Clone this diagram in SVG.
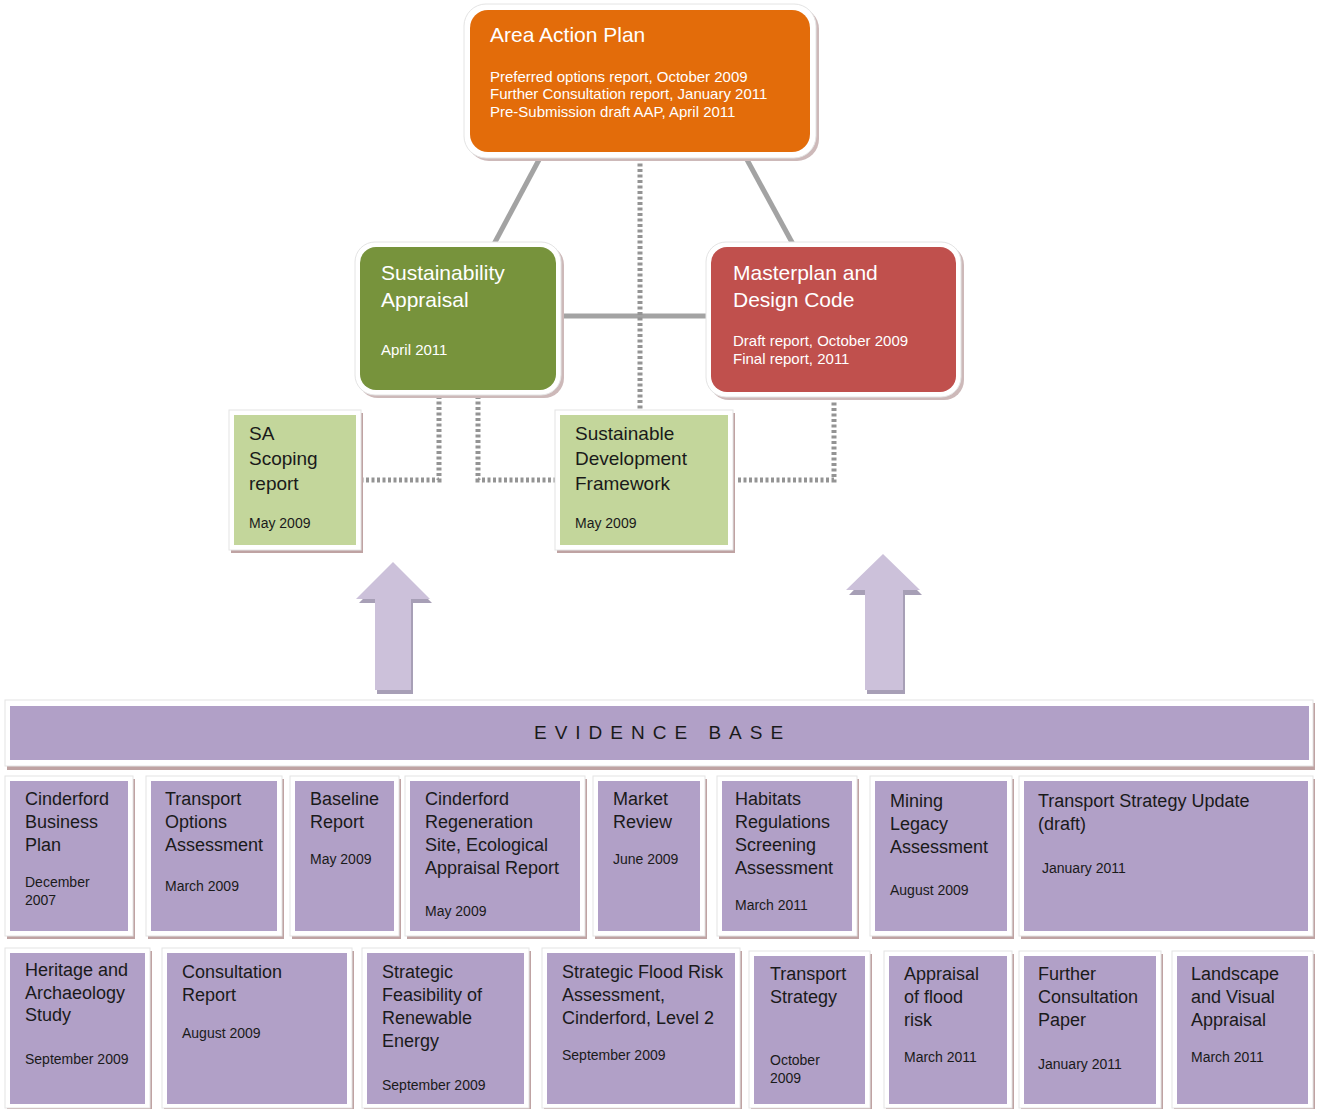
<svg xmlns="http://www.w3.org/2000/svg" width="1318" height="1109" viewBox="0 0 1318 1109">
<style>
text{font-family:"Liberation Sans",Arial,sans-serif}
.frame{fill:#fff;stroke:#e4e4e4;stroke-width:1}
.sh{fill:#bfa3a3}
.shr{fill:#cdb9b9}
.orange{fill:#e36c0a}
.green{fill:#77933c}
.red{fill:#c0504d}
.lg{fill:#c3d69b}
.pu{fill:#b1a0c7}
.wt{fill:#fff;font-size:21px}
.ws{fill:#fff;font-size:15px}
.bt{fill:#1a1a1a;font-size:19px}
.et{fill:#1a1a1a;font-size:18px}
.ed{fill:#1a1a1a;font-size:14px}
.solid{stroke:#a3a3a3;stroke-width:5;fill:none}
.dot{stroke:#949494;stroke-width:5;fill:none;stroke-dasharray:3 2.5}
.arr{fill:#ccc1da}
.arrsh{fill:#a79fb6}
</style>

<g id="connectors">
  <line class="solid" x1="541" y1="156" x2="494" y2="244"/>
  <line class="solid" x1="745" y1="156" x2="794" y2="246"/>
  <line class="solid" x1="558" y1="316" x2="709" y2="316"/>
  <line class="dot" x1="640" y1="158" x2="640" y2="410"/>
  <polyline class="dot" points="439,396 439,480 363,480"/>
  <polyline class="dot" points="478,396 478,480 556,480"/>
  <polyline class="dot" points="834,397 834,480 736,480"/>
</g>

<g id="arrow-left">
  <polygon class="arrsh" points="395,566 432,603 413,603 413,694 377,694 377,603 359,603"/>
  <polygon class="arr" points="393,562 430,599 411,599 411,690 375,690 375,599 356,599"/>
</g>
<g id="arrow-right">
  <polygon class="arrsh" points="885,558 922,595 905,595 905,694 867,694 867,595 849,595"/>
  <polygon class="arr" points="883,554 920,590 903,590 903,690 865,690 865,590 846,590"/>
</g>

<g id="area-action-plan">
  <rect class="shr" x="467" y="7" width="352" height="154" rx="22"/>
  <rect class="frame" x="464" y="4" width="352" height="154" rx="22"/>
  <rect class="orange" x="470" y="10" width="340" height="142" rx="18"/>
  <text class="wt" x="490" y="42">Area Action Plan</text>
  <text class="ws" x="490" y="82">Preferred options report, October 2009</text>
  <text class="ws" x="490" y="99">Further Consultation report, January 2011</text>
  <text class="ws" x="490" y="117">Pre-Submission draft AAP, April 2011</text>
</g>

<g id="sustainability-appraisal">
  <rect class="shr" x="358" y="245" width="206" height="153" rx="20"/>
  <rect class="frame" x="355" y="242" width="206" height="153" rx="20"/>
  <rect class="green" x="360" y="247" width="196" height="143" rx="16"/>
  <text class="wt" x="381" y="280">Sustainability</text>
  <text class="wt" x="381" y="307">Appraisal</text>
  <text class="ws" x="381" y="355">April 2011</text>
</g>

<g id="masterplan">
  <rect class="shr" x="709" y="245" width="255" height="155" rx="20"/>
  <rect class="frame" x="706" y="242" width="255" height="155" rx="20"/>
  <rect class="red" x="711" y="247" width="245" height="145" rx="16"/>
  <text class="wt" x="733" y="280">Masterplan and</text>
  <text class="wt" x="733" y="307">Design Code</text>
  <text class="ws" x="733" y="346">Draft report, October 2009</text>
  <text class="ws" x="733" y="364">Final report, 2011</text>
</g>

<g id="sa-scoping">
  <rect class="sh" x="231" y="413" width="132" height="140"/>
  <rect class="frame" x="229" y="410" width="132" height="140"/>
  <rect class="lg" x="234" y="415" width="122" height="130"/>
  <text class="bt" x="249" y="440">SA</text>
  <text class="bt" x="249" y="465">Scoping</text>
  <text class="bt" x="249" y="490">report</text>
  <text class="ed" x="249" y="528">May 2009</text>
</g>

<g id="sdf">
  <rect class="sh" x="557" y="413" width="178" height="140"/>
  <rect class="frame" x="555" y="410" width="178" height="140"/>
  <rect class="lg" x="560" y="415" width="168" height="130"/>
  <text class="bt" x="575" y="440">Sustainable</text>
  <text class="bt" x="575" y="465">Development</text>
  <text class="bt" x="575" y="490">Framework</text>
  <text class="ed" x="575" y="528">May 2009</text>
</g>

<g id="evidence-base">
  <rect class="sh" x="7" y="703" width="1308" height="67"/>
  <rect class="frame" x="5" y="700" width="1308" height="66"/>
  <rect class="pu" x="10" y="706" width="1299" height="54"/>
  <text x="534" y="739" style="font-size:19px;letter-spacing:8px;fill:#1a1a1a">EVIDENCE  BASE</text>
</g>

<!-- Row 1 -->
<g id="ev-cinderford-business-plan">
  <rect class="sh" x="7" y="779" width="128" height="160"/>
  <rect class="frame" x="5" y="776" width="128" height="160"/>
  <rect class="pu" x="10" y="781" width="118" height="150"/>
  <text class="et" x="25" y="805">Cinderford</text>
  <text class="et" x="25" y="828">Business</text>
  <text class="et" x="25" y="851">Plan</text>
  <text class="ed" x="25" y="887">December</text>
  <text class="ed" x="25" y="905">2007</text>
</g>
<g id="ev-transport-options">
  <rect class="sh" x="148" y="779" width="136" height="160"/>
  <rect class="frame" x="146" y="776" width="136" height="160"/>
  <rect class="pu" x="151" y="781" width="126" height="150"/>
  <text class="et" x="165" y="805">Transport</text>
  <text class="et" x="165" y="828">Options</text>
  <text class="et" x="165" y="851">Assessment</text>
  <text class="ed" x="165" y="891">March  2009</text>
</g>
<g id="ev-baseline-report">
  <rect class="sh" x="292" y="779" width="109" height="160"/>
  <rect class="frame" x="290" y="776" width="109" height="160"/>
  <rect class="pu" x="295" y="781" width="99" height="150"/>
  <text class="et" x="310" y="805">Baseline</text>
  <text class="et" x="310" y="828">Report</text>
  <text class="ed" x="310" y="864">May 2009</text>
</g>
<g id="ev-ecological-appraisal">
  <rect class="sh" x="407" y="779" width="180" height="160"/>
  <rect class="frame" x="405" y="776" width="180" height="160"/>
  <rect class="pu" x="410" y="781" width="170" height="150"/>
  <text class="et" x="425" y="805">Cinderford</text>
  <text class="et" x="425" y="828">Regeneration</text>
  <text class="et" x="425" y="851">Site, Ecological</text>
  <text class="et" x="425" y="874">Appraisal Report</text>
  <text class="ed" x="425" y="916">May 2009</text>
</g>
<g id="ev-market-review">
  <rect class="sh" x="595" y="779" width="112" height="160"/>
  <rect class="frame" x="593" y="776" width="112" height="160"/>
  <rect class="pu" x="598" y="781" width="102" height="150"/>
  <text class="et" x="613" y="805">Market</text>
  <text class="et" x="613" y="828">Review</text>
  <text class="ed" x="613" y="864">June 2009</text>
</g>
<g id="ev-habitats">
  <rect class="sh" x="719" y="779" width="140" height="160"/>
  <rect class="frame" x="717" y="776" width="140" height="160"/>
  <rect class="pu" x="722" y="781" width="130" height="150"/>
  <text class="et" x="735" y="805">Habitats</text>
  <text class="et" x="735" y="828">Regulations</text>
  <text class="et" x="735" y="851">Screening</text>
  <text class="et" x="735" y="874">Assessment</text>
  <text class="ed" x="735" y="910">March 2011</text>
</g>
<g id="ev-mining-legacy">
  <rect class="sh" x="872" y="779" width="142" height="160"/>
  <rect class="frame" x="870" y="776" width="142" height="160"/>
  <rect class="pu" x="875" y="781" width="132" height="150"/>
  <text class="et" x="890" y="807">Mining</text>
  <text class="et" x="890" y="830">Legacy</text>
  <text class="et" x="890" y="853">Assessment</text>
  <text class="ed" x="890" y="895">August 2009</text>
</g>
<g id="ev-transport-strategy-update">
  <rect class="sh" x="1021" y="779" width="294" height="160"/>
  <rect class="frame" x="1019" y="776" width="294" height="160"/>
  <rect class="pu" x="1024" y="781" width="284" height="150"/>
  <text class="et" x="1038" y="807">Transport Strategy Update</text>
  <text class="et" x="1038" y="830">(draft)</text>
  <text class="ed" x="1042" y="873">January 2011</text>
</g>

<!-- Row 2 -->
<g id="ev-heritage">
  <rect class="sh" x="7" y="951" width="145" height="160"/>
  <rect class="frame" x="5" y="948" width="145" height="160"/>
  <rect class="pu" x="10" y="953" width="135" height="151"/>
  <text class="et" x="25" y="976">Heritage and</text>
  <text class="et" x="25" y="999">Archaeology</text>
  <text class="et" x="25" y="1021">Study</text>
  <text class="ed" x="25" y="1064">September 2009</text>
</g>
<g id="ev-consultation-report">
  <rect class="sh" x="164" y="951" width="190" height="160"/>
  <rect class="frame" x="162" y="948" width="190" height="160"/>
  <rect class="pu" x="167" y="953" width="180" height="151"/>
  <text class="et" x="182" y="978">Consultation</text>
  <text class="et" x="182" y="1001">Report</text>
  <text class="ed" x="182" y="1038">August 2009</text>
</g>
<g id="ev-renewable-energy">
  <rect class="sh" x="364" y="951" width="167" height="160"/>
  <rect class="frame" x="362" y="948" width="167" height="160"/>
  <rect class="pu" x="367" y="953" width="157" height="151"/>
  <text class="et" x="382" y="978">Strategic</text>
  <text class="et" x="382" y="1001">Feasibility of</text>
  <text class="et" x="382" y="1024">Renewable</text>
  <text class="et" x="382" y="1047">Energy</text>
  <text class="ed" x="382" y="1090">September 2009</text>
</g>
<g id="ev-flood-risk-assessment">
  <rect class="sh" x="544" y="951" width="198" height="160"/>
  <rect class="frame" x="542" y="948" width="198" height="160"/>
  <rect class="pu" x="547" y="953" width="188" height="151"/>
  <text class="et" x="562" y="978">Strategic Flood Risk</text>
  <text class="et" x="562" y="1001">Assessment,</text>
  <text class="et" x="562" y="1024">Cinderford, Level 2</text>
  <text class="ed" x="562" y="1060">September  2009</text>
</g>
<g id="ev-transport-strategy">
  <rect class="sh" x="751" y="954" width="121" height="157"/>
  <rect class="frame" x="749" y="951" width="121" height="157"/>
  <rect class="pu" x="754" y="956" width="111" height="148"/>
  <text class="et" x="770" y="980">Transport</text>
  <text class="et" x="770" y="1003">Strategy</text>
  <text class="ed" x="770" y="1065">October</text>
  <text class="ed" x="770" y="1083">2009</text>
</g>
<g id="ev-appraisal-flood-risk">
  <rect class="sh" x="886" y="954" width="128" height="157"/>
  <rect class="frame" x="884" y="951" width="128" height="157"/>
  <rect class="pu" x="889" y="956" width="118" height="148"/>
  <text class="et" x="904" y="980">Appraisal</text>
  <text class="et" x="904" y="1003">of flood</text>
  <text class="et" x="904" y="1026">risk</text>
  <text class="ed" x="904" y="1062">March 2011</text>
</g>
<g id="ev-further-consultation">
  <rect class="sh" x="1021" y="954" width="142" height="157"/>
  <rect class="frame" x="1019" y="951" width="142" height="157"/>
  <rect class="pu" x="1024" y="956" width="132" height="148"/>
  <text class="et" x="1038" y="980">Further</text>
  <text class="et" x="1038" y="1003">Consultation</text>
  <text class="et" x="1038" y="1026">Paper</text>
  <text class="ed" x="1038" y="1069">January 2011</text>
</g>
<g id="ev-landscape">
  <rect class="sh" x="1174" y="954" width="141" height="157"/>
  <rect class="frame" x="1172" y="951" width="141" height="157"/>
  <rect class="pu" x="1177" y="956" width="131" height="148"/>
  <text class="et" x="1191" y="980">Landscape</text>
  <text class="et" x="1191" y="1003">and Visual</text>
  <text class="et" x="1191" y="1026">Appraisal</text>
  <text class="ed" x="1191" y="1062">March 2011</text>
</g>
</svg>
